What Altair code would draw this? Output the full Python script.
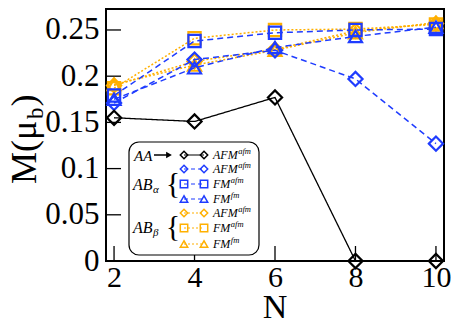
import altair as alt
import pandas as pd

# ---------------- data ----------------
N = [2, 4, 6, 8, 10]
aa_afm = [0.155, 0.151, 0.177, 0.0, 0.0]
aba_afm = [0.171, 0.218, 0.228, 0.197, 0.127]
aba_fm_afm = [0.179, 0.238, 0.247, 0.250, 0.251]
aba_fm_fm = [0.175, 0.209, 0.231, 0.243, 0.253]
abb_afm = [0.190, 0.216, 0.229, 0.249, 0.257]
abb_fm_afm = [0.187, 0.241, 0.250, 0.251, 0.256]
abb_fm_fm = [0.191, 0.212, 0.228, 0.247, 0.258]

x_ticks = [2, 4, 6, 8, 10]
y_ticks = [0, 0.05, 0.1, 0.15, 0.2, 0.25]

BLUE = "#1f3cff"
ORANGE = "#ffb000"
BLACK = "#000000"
SERIF = "Liberation Serif"

W, H = 338, 252
XDOM = [1.8, 10.2]
YDOM = [0, 0.2727]

xs = alt.Scale(domain=XDOM, nice=False, zero=False)
ys = alt.Scale(domain=YDOM, nice=False, zero=False)
X_AX = alt.Axis(values=x_ticks, title=None, domain=False, ticks=False, tickSize=0, grid=False,
                labelFont=SERIF, labelFontSize=30, labelColor="black", labelPadding=1, labelFlush=False)
Y_AX = alt.Axis(values=y_ticks, title=None, domain=False, ticks=False, tickSize=0, grid=False,
                labelFont=SERIF, labelFontSize=31, labelColor="black", labelPadding=7, format=".2~f",
                labelFlush=False)


def X():
    return alt.X("N:Q", scale=xs, axis=X_AX)


def Y():
    return alt.Y("M:Q", scale=ys, axis=Y_AX)


# (values, color, dash, shape, marker size)
series = [
    (abb_afm, ORANGE, [2, 2], "diamond", 200),
    (abb_fm_afm, ORANGE, [2, 2], "square", 150),
    (abb_fm_fm, ORANGE, [2, 2], "triangle-up", 170),
    (aba_afm, BLUE, [6, 4], "diamond", 200),
    (aba_fm_afm, BLUE, [6, 4], "square", 150),
    (aba_fm_fm, BLUE, [6, 4], "triangle-up", 170),
    (aa_afm, BLACK, [1, 0], "diamond", 200),
]

layers = []

# inward tick marks
xt = alt.Chart(pd.DataFrame({"N": x_ticks})).mark_rule(color="black", strokeWidth=1.3).encode(
    x=X(), y=alt.value(H), y2=alt.value(H - 15))
yt = alt.Chart(pd.DataFrame({"M": y_ticks})).mark_rule(color="black", strokeWidth=1.3).encode(
    y=Y(), x=alt.value(0), x2=alt.value(15))
layers += [xt, yt]

for vals, col, dash, shape, size in series:
    df = pd.DataFrame({"N": N, "M": vals})
    ln = alt.Chart(df).mark_line(color=col, strokeDash=dash, strokeWidth=1.5 if col != BLACK else 1.3).encode(
        x=X(), y=Y())
    pt = alt.Chart(df).mark_point(shape=shape, filled=False, color=col, size=size, strokeWidth=2.2,
                                  opacity=1).encode(x=X(), y=Y())
    layers += [ln, pt]

one = pd.DataFrame({"a": [0]})


def txt(s, x, y, size, italic=False, align="left", baseline="middle", angle=0):
    props = dict(text=s, font=SERIF, fontSize=size, align=align, baseline=baseline, color="black")
    if italic:
        props["fontStyle"] = "italic"
    if angle:
        props["angle"] = angle
    return alt.Chart(one).mark_text(**props).encode(x=alt.value(x), y=alt.value(y))


# ---------------- legend ----------------
OX = 2
LX0, LX1, LY0, LY1 = 21 + OX, 151 + OX, 133, 246
layers.append(alt.Chart(one).mark_rect(fill="white", stroke="black", strokeWidth=1.2, cornerRadius=10).encode(
    x=alt.value(LX0), x2=alt.value(LX1), y=alt.value(LY0), y2=alt.value(LY1)))

rows_y = [146, 160, 175, 190, 204, 219, 235]
leg_items = [
    (BLACK, [1, 0], "diamond", "AFM", "afm"),
    (BLUE, [4, 3], "diamond", "AFM", "afm"),
    (BLUE, [4, 3], "square", "FM", "afm"),
    (BLUE, [4, 3], "triangle-up", "FM", "fm"),
    (ORANGE, [2, 2], "diamond", "AFM", "afm"),
    (ORANGE, [2, 2], "square", "FM", "afm"),
    (ORANGE, [2, 2], "triangle-up", "FM", "fm"),
]
MX0, MX1 = 76 + OX, 96 + OX
for yy, (col, dash, shape, main, sup) in zip(rows_y, leg_items):
    layers.append(alt.Chart(one).mark_rule(color=col, strokeDash=dash, strokeWidth=1.2).encode(
        x=alt.value(MX0), x2=alt.value(MX1), y=alt.value(yy)))
    for mx in (MX0, MX1):
        layers.append(alt.Chart(one).mark_point(shape=shape, filled=False, color=col, size=55,
                                                strokeWidth=1.5, opacity=1).encode(
            x=alt.value(mx), y=alt.value(yy)))
    layers.append(txt(main, 105 + OX, yy + 4, 12, italic=True, baseline="alphabetic"))
    wmain = 24.7 if main == "AFM" else 17.3
    layers.append(txt(sup, 105 + OX + wmain + 0.5, yy - 1, 8.5, italic=True, baseline="alphabetic"))

# AA label with arrow
layers.append(txt("AA", 26 + OX, rows_y[0] + 5.5, 15, italic=True, baseline="alphabetic"))
layers.append(alt.Chart(one).mark_rule(color="black", strokeWidth=1.5).encode(
    x=alt.value(46 + OX), x2=alt.value(60 + OX), y=alt.value(rows_y[0])))
layers.append(alt.Chart(one).mark_point(shape="triangle-right", filled=True, color="black", size=45,
                                        opacity=1).encode(x=alt.value(61 + OX), y=alt.value(rows_y[0])))

# AB alpha / beta with braces
for cy, sub in ((175, "α"), (218, "β")):
    layers.append(txt("AB", 25 + OX, cy + 5.5, 16, italic=True, baseline="alphabetic"))
    layers.append(txt(sub, 45 + OX, cy + 9, 11, italic=True, baseline="alphabetic"))
    layers.append(txt("{", 65 + OX, cy + 9, 30, align="center", baseline="alphabetic"))

# ---------------- axis titles ----------------
layers.append(txt("N", W / 2, 309, 34, align="center", baseline="alphabetic"))
TX, TY = -70, 175
layers.append(txt("M(μ", TX, TY, 36, align="left", baseline="alphabetic", angle=270))
layers.append(txt("b", TX + 7, TY - 65, 23, align="left", baseline="alphabetic", angle=270))
layers.append(txt(")", TX, TY - 77.5, 36, align="left", baseline="alphabetic", angle=270))

chart = alt.layer(*layers).properties(
    width=W, height=H,
    padding={"left": 98, "top": 1, "right": 7, "bottom": 58},
    autosize=alt.AutoSizeParams(type="none"),
).configure(background="white").configure_view(stroke="black", strokeWidth=2).configure_axis(
    labelFont=SERIF, titleFont=SERIF)

chart.save("out.html", embed_options={"renderer": "svg", "actions": False})
